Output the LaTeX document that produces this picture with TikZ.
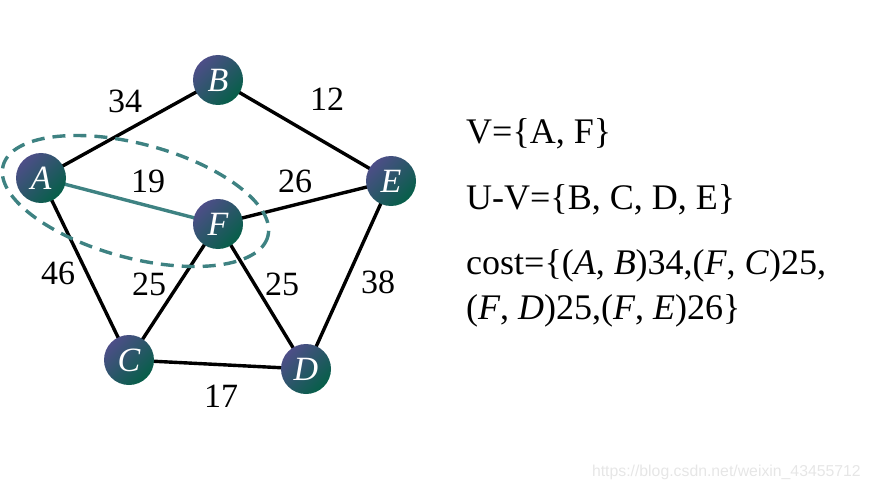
\documentclass[tikz,border=0pt]{standalone}
\usepackage{fontspec}
\setmainfont{Liberation Serif}
\newfontfamily\wmfont{Liberation Sans}
\definecolor{nodetop}{HTML}{4D4E88}
\definecolor{nodebot}{HTML}{065F48}
\definecolor{tealline}{HTML}{3E8282}
\definecolor{wmgray}{HTML}{E6E6E6}
\begin{document}
\begin{tikzpicture}[x=1pt,y=-1pt,
  vtx/.style={circle,minimum size=50pt,inner sep=0pt,top color=nodetop,bottom color=nodebot,shading angle=45,text=white,font=\fontsize{34}{34}\selectfont\itshape},
  edge/.style={line width=3.4pt,black},
  tedge/.style={line width=3.4pt,tealline},
  wlabel/.style={font=\fontsize{34}{34}\selectfont,inner sep=0pt},
  settext/.style={font=\fontsize{36}{45}\selectfont,anchor=west,align=left,inner sep=0pt}]
\useasboundingbox (0,0) rectangle (870,492);
\coordinate (A0) at (41,178);
\coordinate (B0) at (218,80);
\coordinate (E0) at (391,181);
\coordinate (F0) at (218,224);
\coordinate (C0) at (129,360);
\coordinate (D0) at (306,369);
\draw[edge] (A0) -- (B0);
\draw[edge] (B0) -- (E0);
\draw[edge] (F0) -- (E0);
\draw[edge] (A0) -- (C0);
\draw[edge] (F0) -- (C0);
\draw[edge] (F0) -- (D0);
\draw[edge] (E0) -- (D0);
\draw[edge] (C0) -- (D0);
\draw[tedge] (A0) -- (F0);
\draw[line width=3.4pt,tealline,dash pattern=on 13pt off 8pt] (135.5,201) ellipse[x radius=137,y radius=57,rotate=-15];
\node[vtx] (A) at (A0) {A};
\node[vtx] (B) at (B0) {B};
\node[vtx] (E) at (E0) {E};
\node[vtx] (F) at (F0) {F};
\node[vtx] (C) at (C0) {C};
\node[vtx] (D) at (D0) {D};
\node[wlabel] (l1) at (125,101) {34};
\node[wlabel] (l2) at (327,99) {12};
\node[wlabel] (l3) at (148,181) {19};
\node[wlabel] (l4) at (295,181) {26};
\node[wlabel] (l5) at (58,273) {46};
\node[wlabel] (l6) at (149,284) {25};
\node[wlabel] (l7) at (282,284) {25};
\node[wlabel] (l8) at (378,282) {38};
\node[wlabel] (l9) at (221,396) {17};
\node[settext] (t1) at (466,134) {V=\{A, F\}};
\node[settext] (t2) at (466,200) {U-V=\{B, C, D, E\}};
\node[settext] (t3) at (466,288) {cost=\{(\textit{A}, \textit{B})34,(\textit{F}, \textit{C})25,\\(\textit{F}, \textit{D})25,(\textit{F}, \textit{E})26\}};
\node[font=\wmfont\fontsize{15.8}{15.8}\selectfont,text=wmgray,anchor=east,inner sep=0pt] (wm) at (861,472) {https://blog.csdn.net/weixin\_43455712};
\end{tikzpicture}
\end{document}
